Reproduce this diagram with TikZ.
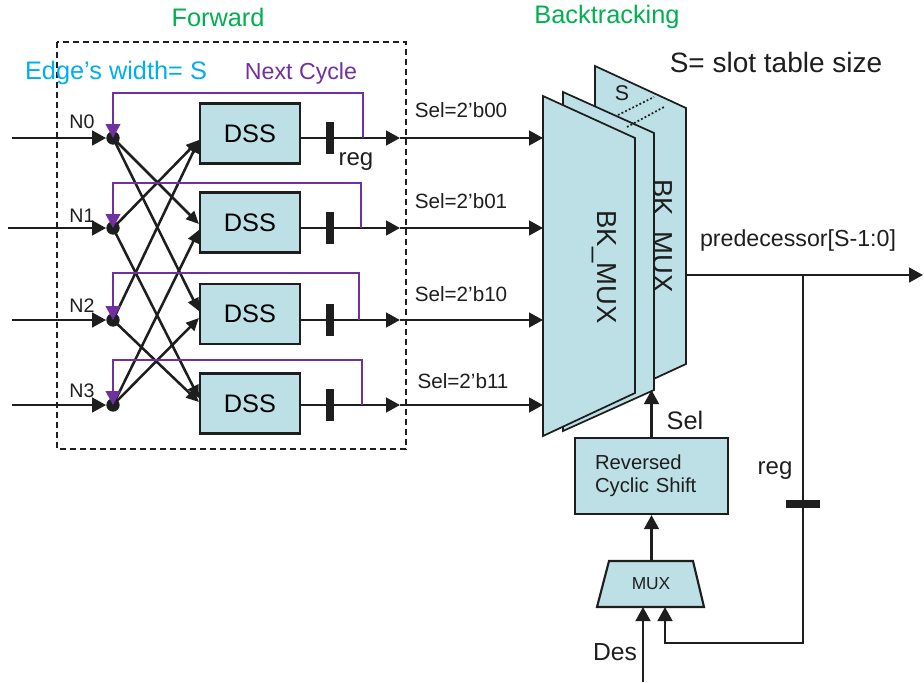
\documentclass[tikz,border=0pt]{standalone}
\usepackage{fontspec}
\setmainfont{Liberation Sans}
\usetikzlibrary{arrows.meta,calc}

\definecolor{boxfill}{RGB}{188,224,230}
\definecolor{fwdgreen}{RGB}{0,176,80}
\definecolor{edgecyan}{RGB}{0,174,239}
\definecolor{cyclepurple}{RGB}{112,48,160}
\definecolor{ink}{RGB}{30,30,30}

\newcommand{\setsz}[1]{\fontsize{#1}{#1}\selectfont}

\begin{document}
\begin{tikzpicture}[x=0.75pt,y=-0.75pt,
  wire/.style={line width=1.9pt,draw=ink},
  arr/.style={-{Triangle[length=10.5pt,width=11pt]}},
  xarr/.style={-{Triangle[length=9.5pt,width=8.5pt]}},
  fb/.style={line width=1.5pt,draw=cyclepurple,-{Triangle[length=10.5pt,width=11pt]}},
  dss/.style={draw=ink,line width=1.6pt,fill=boxfill,minimum width=75pt,minimum height=45pt,inner sep=0pt,font=\setsz{19}},
  junction/.style={circle,fill=ink,inner sep=0pt,minimum size=10pt},
  regv/.style={fill=ink,inner sep=0pt,minimum width=6pt,minimum height=24pt},
  regh/.style={fill=ink,inner sep=0pt,minimum width=25pt,minimum height=6pt},
  plane/.style={draw=ink,line width=1.3pt,fill=boxfill},
  nlabel/.style={font=\setsz{14.7},text=ink},
  sellabel/.style={font=\setsz{15.5},text=ink},
  dashbox/.style={draw=ink,line width=1.1pt,dash pattern=on 4.5pt off 3pt}
]
\useasboundingbox (0,0) rectangle (924,682);

% ---------- forward part ----------
\draw[dashbox] (57,42) rectangle (406,449);
\node[font=\setsz{19},text=fwdgreen] (fwd) at (218,17) {Forward};
\node[font=\setsz{19},text=fwdgreen] (bt) at (607,17) {Backtracking};
\node[font=\setsz{21},text=ink] (slot) at (776,62) {S= slot table size};
\node[font=\setsz{19},text=edgecyan] (ew) at (116,73) {Edge’s width= S};
\node[font=\setsz{17.4},text=cyclepurple] (nc) at (301,73) {Next Cycle};

% DSS blocks
\node[dss] (dss0) at (250,133.5) {DSS};
\node[dss] (dss1) at (250,222.5) {DSS};
\node[dss] (dss2) at (250,314) {DSS};
\node[dss] (dss3) at (250,403.5) {DSS};

% junction points
\node[junction] (n0) at (113,138) {};
\node[junction] (n1) at (113,228) {};
\node[junction] (n2) at (113,320) {};
\node[junction] (n3) at (113,405) {};

\node[nlabel] (l0) at (82,122) {N0};
\node[nlabel] (l1) at (82,216) {N1};
\node[nlabel] (l2) at (82,306) {N2};
\node[nlabel] (l3) at (82,391) {N3};

% inputs
\coordinate (i0) at (12,138);
\coordinate (i1) at (8,228);
\coordinate (i2) at (12,320);
\coordinate (i3) at (12,405);
\draw[wire,arr] (i0) -- (n0);
\draw[wire,arr] (i1) -- (n1);
\draw[wire,arr] (i2) -- (n2);
\draw[wire,arr] (i3) -- (n3);

% butterfly connections
\draw[wire,xarr] (n1.center) -- ([yshift=-4.9pt]dss0.west);
\draw[wire,xarr] (n2.center) -- ([yshift=-4.9pt]dss0.west);
\draw[wire,xarr] (n0.center) -- ([yshift=-1.1pt]dss1.west);
\draw[wire,xarr] (n3.center) -- ([yshift=-5.6pt]dss1.west);
\draw[wire,xarr] (n0.center) -- ([yshift=2.25pt]dss2.west);
\draw[wire,xarr] (n3.center) -- ([yshift=-3pt]dss2.west);
\draw[wire,xarr] (n1.center) -- ([yshift=4.1pt]dss3.west);
\draw[wire,xarr] (n2.center) -- ([yshift=1.1pt]dss3.west);

% ---------- backtracking multiplexer planes ----------
\coordinate (bTL) at (595,66);  \coordinate (bTR) at (686,108);
\coordinate (bBR) at (686,364); \coordinate (bBL) at (595,406);
\coordinate (mTL) at (563,92);  \coordinate (mTR) at (654,133);
\coordinate (mBR) at (654,390); \coordinate (mBL) at (563,431);
\coordinate (fTL) at (543,96);  \coordinate (fTR) at (635,138);
\coordinate (fBR) at (635,393); \coordinate (fBL) at (543,436);

\draw[plane] (bTL) -- (bTR) -- (bBR) -- (bBL) -- cycle;
\node[rotate=-90,anchor=base,font=\setsz{20.6},text=ink] (bkback) at (653,236) {BK\_MUX};
\draw[plane] (mTL) -- (mTR) -- (mBR) -- (mBL) -- cycle;
\draw[plane] (fTL) -- (fTR) -- (fBR) -- (fBL) -- cycle;
\node[rotate=-90,anchor=base,font=\setsz{20.6},text=ink] (bkfront) at (597,267) {BK\_MUX};
\draw[ink,line width=1.3pt,dash pattern=on 1.4pt off 1.6pt] (618,115) -- (654,97);
\draw[ink,line width=1.3pt,dash pattern=on 1.4pt off 1.6pt] (627,127) -- (664,107);
\node[font=\setsz{16},text=ink] (slabel) at (622,93) {S};

% ---------- DSS outputs, registers and feedback ----------
\coordinate (m0) at (400,138);
\coordinate (m1) at (400,228);
\coordinate (m2) at (400,320);
\coordinate (m3) at (400,405);
\draw[wire,arr] (dss0.east |- n0) -- (m0);
\draw[wire,arr] (dss1.east |- n1) -- (m1);
\draw[wire,arr] (dss2.east |- n2) -- (m2);
\draw[wire,arr] (dss3.east |- n3) -- (m3);
\draw[wire,arr] (m0) -- (fTL |- m0);
\draw[wire,arr] (m1) -- (fTL |- m1);
\draw[wire,arr] (m2) -- (fTL |- m2);
\draw[wire,arr] (m3) -- (fTL |- m3);

\node[regv] (reg0) at (330,138) {};
\node[regv] (reg1) at (330,228) {};
\node[regv] (reg2) at (330,320) {};
\node[regv] (reg3) at (330,405) {};
\node[font=\setsz{18},text=ink] (reglabel) at (356,162) {reg};

\node[sellabel] (s0) at (461,110) {Sel=2’b00};
\node[sellabel] (s1) at (461,201) {Sel=2’b01};
\node[sellabel] (s2) at (461,294) {Sel=2’b10};
\node[sellabel] (s3) at (463,381) {Sel=2’b11};

\coordinate (c0) at (363,138); \coordinate (t0) at (363,93);
\coordinate (c1) at (361,228); \coordinate (t1) at (361,183);
\coordinate (c2) at (359,320); \coordinate (t2) at (359,273);
\coordinate (c3) at (362,405); \coordinate (t3) at (362,360);
\draw[fb] (c0) -- (t0) -| (n0.center);
\draw[fb] (c1) -- (t1) -| (n1.center);
\draw[fb] (c2) -- (t2) -| (n2.center);
\draw[fb] (c3) -- (t3) -| (n3.center);

% ---------- selection path ----------
\node[draw=ink,line width=1.6pt,fill=boxfill,text width=84.75pt,inner xsep=15pt,
      minimum height=57pt,align=left,font=\fontsize{15.2}{17.3}\selectfont,text=ink]
      (rcs) at (651.5,476) {Reversed\\Cyclic Shift};

\coordinate (muxTL) at (609,561); \coordinate (muxTR) at (693,561);
\coordinate (muxBR) at (704,607); \coordinate (muxBL) at (597,607);
\draw[plane,line width=1.6pt] (muxTL) -- (muxTR) -- (muxBR) -- (muxBL) -- cycle;
\node[font=\setsz{13},text=ink] (mux) at (651,584) {MUX};

\draw[wire,arr] (rcs.south |- muxTL) -- (rcs.south);
\draw[wire,arr] (rcs.north) -- (rcs.north |- mBR);
\node[font=\setsz{19},text=ink] (sel) at (685,420) {Sel};

\coordinate (desin) at (643,682);
\draw[wire,arr] (desin) -- (desin |- muxBL);
\node[font=\setsz{18.5},text=ink] (des) at (615,652) {Des};

% predecessor output and its registered loop back into the MUX
\coordinate (bkout) at (686,275);
\coordinate (outend) at (923,275);
\coordinate (tap) at (803,275);
\coordinate (loopc) at (803,643);
\coordinate (muxin2) at (665,607);
\draw[wire,arr] (bkout) -- (outend);
\draw[wire,arr] (tap) -- (loopc) -| (muxin2);
\node[regh] (reg4) at (803,504) {};
\node[font=\setsz{18},text=ink] (reglabel2) at (775,471) {reg};
\node[font=\setsz{17.4},text=ink] (pred) at (798,240) {predecessor[S-1:0]};
\end{tikzpicture}
\end{document}
